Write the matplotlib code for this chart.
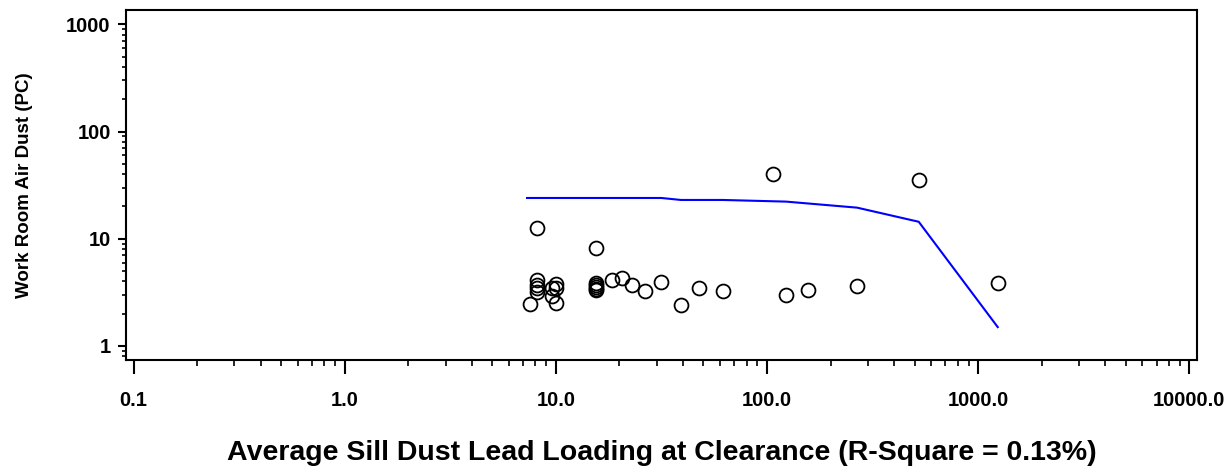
import matplotlib
matplotlib.use("Agg")
import matplotlib.pyplot as plt
from matplotlib.ticker import FixedLocator, LogLocator, NullFormatter

# observed points (sill dust lead loading vs work room air dust)
sill_dust = [8.1, 15.5, 107, 523, 8.1, 8.1, 8.1, 8.1, 7.5, 10.0, 10.0, 9.6, 9.6, 10.0,
             15.5, 15.5, 15.5, 15.5, 15.5, 18.4, 20.6, 22.9, 26.5, 31.6, 39.1, 47.5,
             61.7, 123, 156, 267, 1238]
air_dust = [12.7, 8.2, 40.1, 35.2, 4.12, 3.70, 3.45, 3.20, 2.45, 3.76, 3.49, 3.45, 2.92, 2.53,
            3.84, 3.70, 3.55, 3.40, 3.31, 4.12, 4.27, 3.72, 3.28, 3.92, 2.43, 3.45,
            3.28, 3.01, 3.30, 3.60, 3.89]

# fitted curve
fit_x = [7.3, 31.6, 39.1, 61.7, 123, 267, 523, 1238]
fit_y = [24.0, 24.0, 23.0, 23.0, 22.2, 19.5, 14.4, 1.5]

x_ticks = [0.1, 1, 10, 100, 1000, 10000]
x_ticklabels = ["0.1", "1.0", "10.0", "100.0", "1000.0", "10000.0"]
y_ticks = [1, 10, 100, 1000]
y_ticklabels = ["1", "10", "100", "1000"]

plt.rcParams['font.family'] = ['Liberation Sans', 'DejaVu Sans']
plt.rcParams['font.weight'] = 'bold'

fig = plt.figure(figsize=(12.31, 4.72), dpi=100)
ax = fig.add_axes([126 / 1231, 112 / 472, 1071 / 1231, 350 / 472])

ax.plot(fit_x, fit_y, color='#0000ff', lw=1.5, zorder=2)
ax.plot(sill_dust, air_dust, 'o', ms=10, mfc='none', mec='black', mew=1.3, zorder=3)

ax.set_xscale('log')
ax.set_yscale('log')
ax.set_xlim(0.092, 10877)
ax.set_ylim(0.74, 1359)

ax.xaxis.set_major_locator(FixedLocator(x_ticks))
ax.set_xticklabels(x_ticklabels)
ax.yaxis.set_major_locator(FixedLocator(y_ticks))
ax.set_yticklabels(y_ticklabels)
for axis in (ax.xaxis, ax.yaxis):
    axis.set_minor_locator(LogLocator(base=10, subs=range(2, 10)))
    axis.set_minor_formatter(NullFormatter())

ax.tick_params(axis='x', which='major', length=10, width=1.5, pad=12, labelsize=14.5)
ax.tick_params(axis='x', which='minor', length=4.5, width=1.2)
ax.tick_params(axis='y', which='major', length=6, width=1.5, pad=5, labelsize=14.5)
ax.tick_params(axis='y', which='minor', length=3, width=1.2)
for s in ax.spines.values():
    s.set_linewidth(1.5)

ax.set_xlabel("Average Sill Dust Lead Loading at Clearance (R-Square = 0.13%)",
              fontsize=20.5, fontweight='bold', labelpad=22)
ax.set_ylabel("Work Room Air Dust (PC)", fontsize=13.5, fontweight='bold', labelpad=24)

fig.savefig("out.png", dpi=100)
